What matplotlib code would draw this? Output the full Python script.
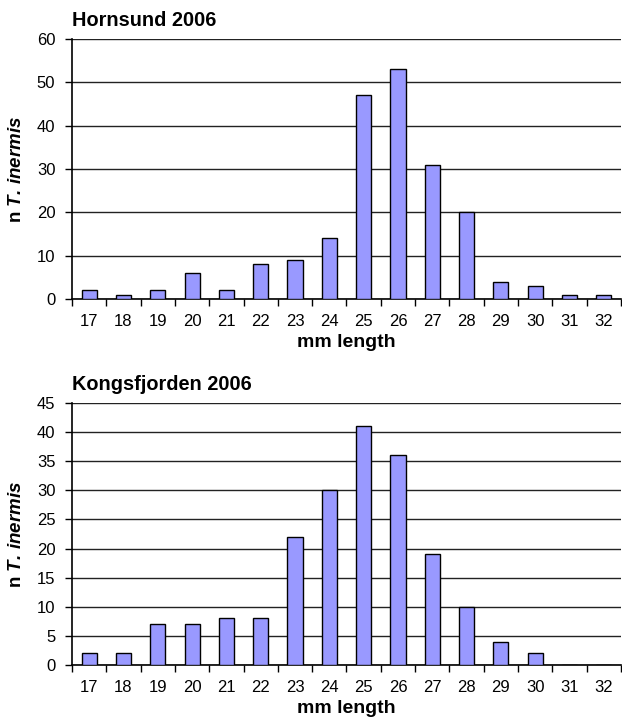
import numpy as np
import matplotlib
matplotlib.use("Agg")
import matplotlib.pyplot as plt

# length classes (mm) and counts
lengths = [17, 18, 19, 20, 21, 22, 23, 24, 25, 26, 27, 28, 29, 30, 31, 32]
hornsund = [2, 1, 2, 6, 2, 8, 9, 14, 47, 53, 31, 20, 4, 3, 1, 1]
kongsfjorden = [2, 2, 7, 7, 8, 8, 22, 30, 41, 36, 19, 10, 4, 2, 0, 0]

titles = ["Hornsund 2006", "Kongsfjorden 2006"]
y_max = [60, 45]
y_step = [10, 5]

plt.rcParams['font.family'] = ['Liberation Sans', 'DejaVu Sans']
plt.rcParams['mathtext.fontset'] = 'custom'
plt.rcParams['mathtext.rm'] = 'Liberation Sans'
plt.rcParams['mathtext.bf'] = 'Liberation Sans:bold'
plt.rcParams['mathtext.it'] = 'Liberation Sans:italic'
plt.rcParams['mathtext.bfit'] = 'Liberation Sans:bold:italic'

fig = plt.figure(figsize=(6.22, 7.22), dpi=100)

W, H = 622.0, 722.0
# axes boxes in pixels: left, top, right, bottom
boxes = [(72, 39, 621, 299), (72, 403, 621, 665)]

for i, series in enumerate([hornsund, kongsfjorden]):
    l, t, r, b = boxes[i]
    ax = fig.add_axes([l / W, 1 - b / H, (r - l) / W, (b - t) / H])
    ax.bar(lengths, series, width=0.44, color='#9999FF', edgecolor='black',
           linewidth=1.0, zorder=3)
    ax.set_xlim(16.5, 32.5)
    ax.set_ylim(0, y_max[i])
    ax.set_yticks(np.arange(0, y_max[i] + 1, y_step[i]))
    ax.set_xticks(lengths)
    ax.set_xticks(np.arange(16.5, 33, 1), minor=True)
    ax.tick_params(axis='x', which='major', length=0, pad=11, labelsize=12)
    ax.tick_params(axis='x', which='minor', length=5, width=1, direction='out')
    ax.tick_params(axis='y', length=5, width=1, direction='out', pad=7, labelsize=12)
    ax.grid(axis='y', color='#222222', linewidth=1.0, zorder=0)
    ax.spines['right'].set_visible(False)
    ax.spines['top'].set_visible(False)
    ax.spines['left'].set_linewidth(1.2)
    ax.spines['bottom'].set_linewidth(1.2)
    ax.set_xlabel('mm length', fontweight='bold', fontsize=14)
    ax.xaxis.set_label_coords(0.5, -35.0 / (b - t))
    ax.set_ylabel(r'$\mathbf{n}\ \mathbfit{T.\,inermis}$', fontsize=13.5)
    ax.yaxis.set_label_coords(-47.0 / (r - l), 0.5)
    fig.text(l / W, 1 - (t - 19) / H, titles[i], fontweight='bold', fontsize=14.3,
             ha='left', va='center')

fig.savefig("out.png", dpi=100)
